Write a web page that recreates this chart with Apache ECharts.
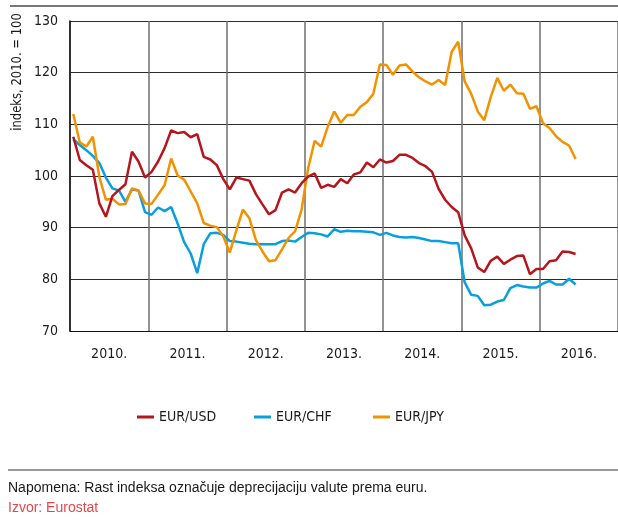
<!DOCTYPE html>
<html>
<head>
<meta charset="utf-8">
<script src="https://cdn.jsdelivr.net/npm/echarts@6/dist/echarts.min.js"></script>
<style>
  html, body { margin: 0; padding: 0; background: #fff; }
  #chart { width: 618px; height: 521px; }
</style>
</head>
<body>
<div id="chart"></div>
<script>
// godine na osi x (svaka godina = 12 mjeseci)
const years = ['2010.', '2011.', '2012.', '2013.', '2014.', '2015.', '2016.'];
const yTicks = [70, 80, 90, 100, 110, 120, 130];
const seriesNames = ['EUR/USD', 'EUR/CHF', 'EUR/JPY'];

// mjesečni indeksi, 2010. = 100 (siječanj 2010. – lipanj 2016.)
const eurUsd = [
  107.6, 103.1, 102.1, 101.2, 94.7, 92.1, 96.1, 97.3, 98.4, 104.7, 102.8, 99.7,
  100.8, 102.8, 105.4, 108.8, 108.3, 108.5, 107.5, 108.1, 103.7, 103.2, 102.1, 99.4,
  97.4, 99.7, 99.4, 99.1, 96.5, 94.5, 92.6, 93.4, 96.8, 97.4, 96.8, 98.6,
  99.9, 100.5, 97.7, 98.3, 97.9, 99.4, 98.6, 100.3, 100.7, 102.6, 101.7, 103.2,
  102.6, 102.9, 104.1, 104.1, 103.5, 102.5, 101.9, 100.8, 97.5, 95.4, 94.0, 93.0,
  88.5, 86.0, 82.3, 81.4, 83.6, 84.4, 83.0, 83.8, 84.5, 84.6, 81.0, 82.0,
  82.0, 83.5, 83.7, 85.4, 85.3, 84.9
];
const eurChf = [
  107.1, 106.0, 105.0, 103.9, 102.5, 99.7, 97.6, 97.2, 95.0, 97.4, 97.2, 93.0,
  92.5, 93.9, 93.2, 94.0, 90.8, 87.2, 85.0, 81.2, 86.8, 88.9, 89.0, 88.6,
  87.4, 87.3, 87.1, 86.9, 86.8, 86.8, 86.8, 86.8, 87.4, 87.5, 87.3, 88.2,
  89.0, 88.9, 88.7, 88.3, 89.7, 89.2, 89.4, 89.3, 89.3, 89.2, 89.1, 88.6,
  89.0, 88.5, 88.2, 88.1, 88.2, 88.0, 87.7, 87.4, 87.4, 87.2, 87.0, 87.0,
  79.4, 77.0, 76.8, 75.0, 75.1, 75.7, 76.0, 78.3, 78.9, 78.6, 78.4, 78.4,
  79.2, 79.7, 79.0, 79.0, 80.1, 79.0
];
const eurJpy = [
  112.0, 106.5, 105.7, 107.6, 99.8, 95.4, 95.6, 94.5, 94.6, 97.6, 97.2, 94.7,
  94.6, 96.4, 98.2, 103.4, 100.1, 99.3, 97.0, 94.7, 90.9, 90.4, 90.1, 88.3,
  85.2, 89.5, 93.5, 91.8, 87.6, 85.4, 83.5, 83.7, 85.8, 88.0, 89.3, 93.5,
  101.5, 106.8, 105.7, 109.5, 112.5, 110.3, 111.8, 111.8, 113.4, 114.3, 115.9, 121.6,
  121.5, 119.6, 121.4, 121.6, 120.2, 119.1, 118.3, 117.7, 118.6, 117.6, 124.0, 126.0,
  118.3, 115.9, 112.5, 110.8, 115.3, 119.0, 116.5, 117.7, 116.0, 115.9, 113.0, 113.5,
  110.2, 109.3, 107.7, 106.6, 105.9, 103.3
];

const narrow = '"DejaVu Sans Condensed", "Liberation Sans Narrow", sans-serif';
const txt = '#1a1a1a';

// točka u sredini mjeseca
function toPoints(arr) {
  return arr.map((v, i) => [i + 0.5, v]);
}

function lineSeries(name, data, color) {
  return {
    name: name,
    type: 'line',
    xAxisIndex: 0,
    data: toPoints(data),
    showSymbol: false,
    lineStyle: { color: color, width: 2.5 },
    itemStyle: { color: color },
    silent: true
  };
}

// svaka stavka legende ima svoju poziciju kao u originalu
function legendItem(name, left) {
  return {
    left: left,
    top: 410,
    padding: 0,
    icon: 'rect',
    itemWidth: 17,
    itemHeight: 3,
    textStyle: { fontSize: 14, fontFamily: narrow, color: txt },
    data: [name]
  };
}

const chart = echarts.init(document.getElementById('chart'), null, { renderer: 'canvas' });

const option = {
  animation: false,
  backgroundColor: '#fff',
  grid: { left: 70, right: -5, top: 21, bottom: 190, containLabel: false },
  xAxis: [
    {
      type: 'value',
      min: 0,
      max: years.length * 12,
      interval: 12,
      axisLine: { show: true, lineStyle: { color: '#111', width: 1 } },
      axisTick: { show: false },
      axisLabel: { show: false },
      splitLine: { show: true, lineStyle: { color: '#6e6e6e', width: 1.5 } }
    },
    {
      type: 'category',
      position: 'bottom',
      data: years,
      boundaryGap: true,
      axisLine: { show: false },
      axisTick: { show: false },
      splitLine: { show: false },
      axisLabel: { margin: 16, fontSize: 14, fontFamily: narrow, color: txt }
    }
  ],
  yAxis: {
    type: 'value',
    min: yTicks[0],
    max: yTicks[yTicks.length - 1],
    interval: 10,
    axisLine: { show: true, lineStyle: { color: '#111', width: 1.5 } },
    axisTick: { show: false },
    axisLabel: { margin: 12, fontSize: 14, fontFamily: narrow, color: txt },
    splitLine: { show: true, lineStyle: { color: '#2a2a2a', width: 1 } }
  },
  legend: [
    legendItem(seriesNames[0], 137),
    legendItem(seriesNames[1], 254),
    legendItem(seriesNames[2], 373)
  ],
  series: [
    lineSeries('EUR/CHF', eurChf, '#0a9fdc'),
    lineSeries('EUR/JPY', eurJpy, '#f39200'),
    lineSeries('EUR/USD', eurUsd, '#b5151d')
  ],
  graphic: [
    {
      type: 'line',
      shape: { x1: 10, y1: 6, x2: 618, y2: 6 },
      style: { stroke: '#777', lineWidth: 2 }
    },
    {
      type: 'text',
      x: 17,
      y: 72,
      rotation: Math.PI / 2,
      scaleX: 0.92,
      style: {
        text: 'indeks, 2010. = 100',
        fontSize: 14,
        fontFamily: narrow,
        fill: txt,
        textAlign: 'center',
        textVerticalAlign: 'middle'
      }
    },
    {
      type: 'line',
      shape: { x1: 8, y1: 470, x2: 618, y2: 470 },
      style: { stroke: '#777', lineWidth: 1.5 }
    },
    {
      type: 'text',
      x: 8,
      y: 488,
      style: {
        text: 'Napomena: Rast indeksa označuje deprecijaciju valute prema euru.',
        fontSize: 14,
        fontFamily: '"Liberation Sans", Arial, sans-serif',
        fill: txt,
        textVerticalAlign: 'middle'
      }
    },
    {
      type: 'text',
      x: 8,
      y: 508,
      style: {
        text: 'Izvor: Eurostat',
        fontSize: 14,
        fontFamily: '"Liberation Sans", Arial, sans-serif',
        fill: '#e2474b',
        textVerticalAlign: 'middle'
      }
    }
  ]
};

chart.setOption(option);
</script>
</body>
</html>
